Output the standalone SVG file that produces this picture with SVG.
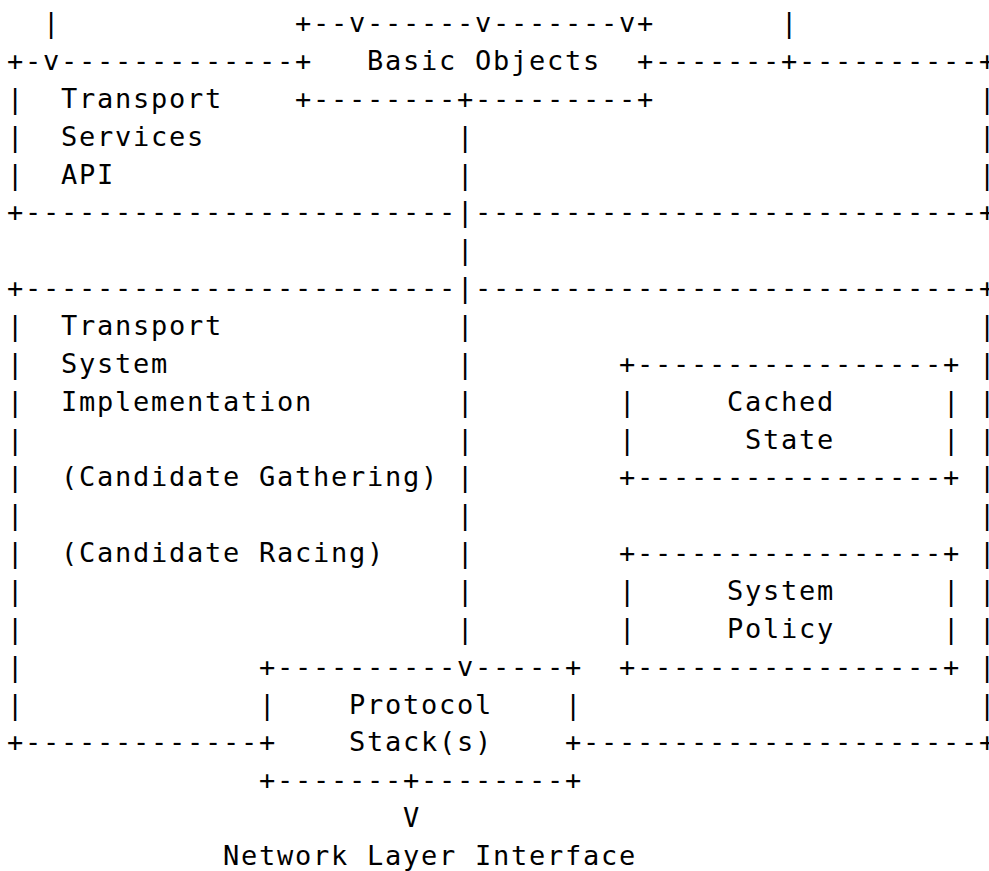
<svg xmlns="http://www.w3.org/2000/svg" width="989" height="871" viewBox="0 0 989 871">
<style>
text{font-family:"DejaVu Sans Mono","Liberation Mono",monospace;font-size:27px;letter-spacing:1.745px;fill:#000;white-space:pre}
</style>
<rect width="989" height="871" fill="#fff"/>
<g id="transport-services-api">
<text x="6.9" y="70">+-</text>
<text x="60.9" y="70">-------------+</text>
<text x="636.9" y="70">+-------</text>
<text x="798.9" y="70">----------+</text>
<text x="6.9" y="107.8">|</text><text x="60.9" y="107.8">Transport</text><text x="978.9" y="107.8">|</text>
<text x="6.9" y="145.7">|</text><text x="60.9" y="145.7">Services</text><text x="978.9" y="145.7">|</text>
<text x="6.9" y="183.5">|</text><text x="60.9" y="183.5">API</text><text x="978.9" y="183.5">|</text>
<text x="6.9" y="221.4">+------------------------</text>
<text x="474.9" y="221.4">----------------------------+</text>
</g>
<g id="basic-objects">
<text x="294.9" y="32.1">+--</text>
<text x="366.9" y="32.1">------</text>
<text x="492.9" y="32.1">-------</text>
<text x="636.9" y="32.1">+</text>
<text x="366.9" y="70">Basic Objects</text>
<text x="294.9" y="107.8">+--------</text>
<text x="474.9" y="107.8">---------+</text>
</g>
<g id="transport-system-implementation">
<text x="6.9" y="297.1">+------------------------</text>
<text x="474.9" y="297.1">----------------------------+</text>
<text x="6.9" y="335">|</text><text x="60.9" y="335">Transport</text><text x="978.9" y="335">|</text>
<text x="6.9" y="372.8">|</text><text x="60.9" y="372.8">System</text><text x="978.9" y="372.8">|</text>
<text x="6.9" y="410.7">|</text><text x="60.9" y="410.7">Implementation</text><text x="978.9" y="410.7">|</text>
<text x="6.9" y="448.6">|</text><text x="978.9" y="448.6">|</text>
<text x="6.9" y="486.4">|</text><text x="60.9" y="486.4">(Candidate Gathering)</text><text x="978.9" y="486.4">|</text>
<text x="6.9" y="524.3">|</text><text x="978.9" y="524.3">|</text>
<text x="6.9" y="562.1">|</text><text x="60.9" y="562.1">(Candidate Racing)</text><text x="978.9" y="562.1">|</text>
<text x="6.9" y="600">|</text><text x="978.9" y="600">|</text>
<text x="6.9" y="637.9">|</text><text x="978.9" y="637.9">|</text>
<text x="6.9" y="675.7">|</text><text x="978.9" y="675.7">|</text>
<text x="6.9" y="713.6">|</text><text x="978.9" y="713.6">|</text>
<text x="6.9" y="751.4">+-------------+</text>
<text x="564.9" y="751.4">+----------------------+</text>
</g>
<g id="cached-state">
<text x="618.9" y="372.8">+-----------------+</text>
<text x="618.9" y="410.7">|</text><text x="726.9" y="410.7">Cached</text><text x="942.9" y="410.7">|</text>
<text x="618.9" y="448.6">|</text><text x="744.9" y="448.6">State</text><text x="942.9" y="448.6">|</text>
<text x="618.9" y="486.4">+-----------------+</text>
</g>
<g id="system-policy">
<text x="618.9" y="562.1">+-----------------+</text>
<text x="618.9" y="600">|</text><text x="726.9" y="600">System</text><text x="942.9" y="600">|</text>
<text x="618.9" y="637.9">|</text><text x="726.9" y="637.9">Policy</text><text x="942.9" y="637.9">|</text>
<text x="618.9" y="675.7">+-----------------+</text>
</g>
<g id="protocol-stacks">
<text x="258.9" y="675.7">+----------</text>
<text x="474.9" y="675.7">-----+</text>
<text x="258.9" y="713.6">|</text><text x="348.9" y="713.6">Protocol</text><text x="564.9" y="713.6">|</text>
<text x="348.9" y="751.4">Stack(s)</text>
<text x="258.9" y="789.3">+-------</text>
<text x="420.9" y="789.3">--------+</text>
</g>
<g id="network-layer-interface">
<text x="222.9" y="865">Network Layer Interface</text>
</g>
<g id="connectors">
<text x="42.9" y="32.1">|</text><text x="42.9" y="70">v</text>
<text x="780.9" y="32.1">|</text><text x="780.9" y="70">+</text>
<text x="348.9" y="32.1">v</text>
<text x="474.9" y="32.1">v</text>
<text x="618.9" y="32.1">v</text>
<text x="456.9" y="107.8">+</text>
<text x="456.9" y="145.7">|</text>
<text x="456.9" y="183.5">|</text>
<text x="456.9" y="221.4">|</text>
<text x="456.9" y="259.3">|</text>
<text x="456.9" y="297.1">|</text>
<text x="456.9" y="335">|</text>
<text x="456.9" y="372.8">|</text>
<text x="456.9" y="410.7">|</text>
<text x="456.9" y="448.6">|</text>
<text x="456.9" y="486.4">|</text>
<text x="456.9" y="524.3">|</text>
<text x="456.9" y="562.1">|</text>
<text x="456.9" y="600">|</text>
<text x="456.9" y="637.9">|</text>
<text x="456.9" y="675.7">v</text>
<text x="402.9" y="789.3">+</text>
<text x="402.9" y="827.2">V</text>
</g>
</svg>
